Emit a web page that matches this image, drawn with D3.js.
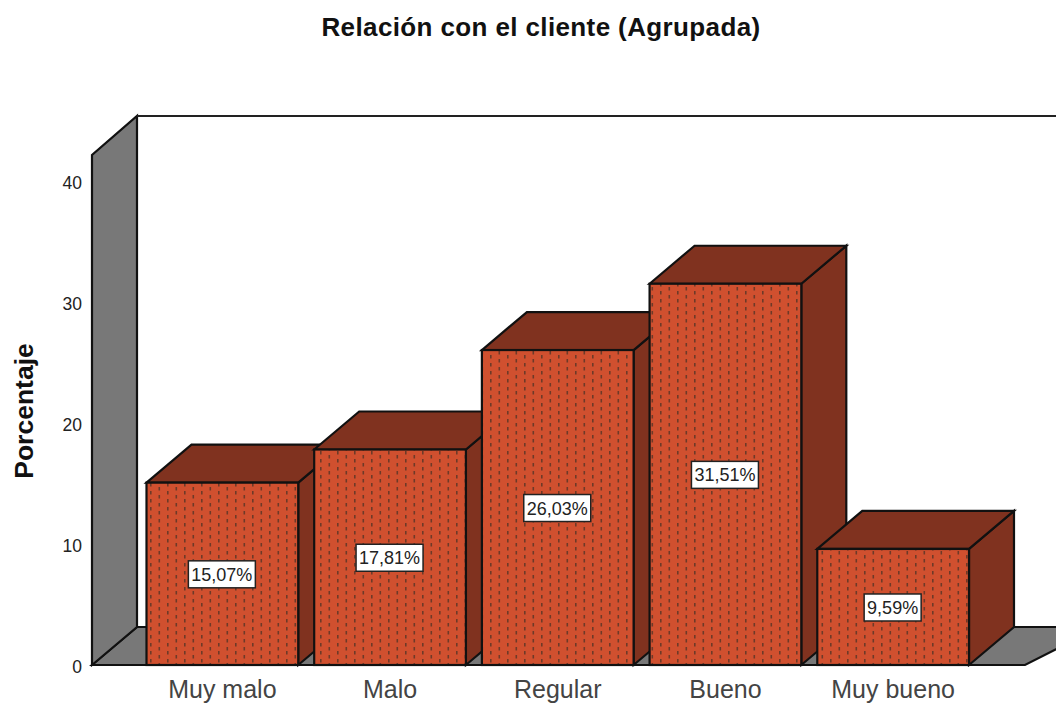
<!DOCTYPE html>
<html><head><meta charset="utf-8">
<script src="https://cdn.jsdelivr.net/npm/d3@7"></script>
<style>html,body{margin:0;padding:0;background:#fff;overflow:hidden}svg{display:block}text{font-family:"Liberation Sans",Arial,sans-serif}</style>
</head><body><svg id="c" width="1056" height="703"></svg>
<script>
const categories = ["Muy malo","Malo","Regular","Bueno","Muy bueno"];
const percentages = [15.07,17.81,26.03,31.51,9.59];
const valueLabels = ["15,07%","17,81%","26,03%","31,51%","9,59%"];
const yTicks = [0,10,20,30,40];
const chartTitle = "Relación con el cliente (Agrupada)";
const yTitle = "Porcentaje";

const DX = 45, DY = -38;
const ink = "#111";
const sw = 2.2;
const svg = d3.select("#c");
const y = d3.scaleLinear().domain([0,40]).range([665,181]);
const x = d3.scaleBand().domain(categories).range([146.5,969]).paddingInner(16/168).paddingOuter(0);
const fmt = p => d3.line()(p)+"Z";

const pat = svg.append("defs").append("pattern").attr("id","dots")
  .attr("patternUnits","userSpaceOnUse").attr("width",17).attr("height",8).attr("x",146).attr("y",483);
pat.append("rect").attr("width",17).attr("height",8).attr("fill","#D0502F");
[[4,0],[12.5,4]].forEach(([a,b])=>pat.append("rect").attr("x",a).attr("y",b).attr("width",1.6).attr("height",3.5).attr("fill","#6e3a28"));

// walls
const wallL=92, wallR=1025, yb=y(0), wallTop=155;
svg.append("path").attr("d",fmt([[wallL,yb],[wallL+DX,yb+DY],[1100,yb+DY],[wallR,yb]])).attr("fill","#787878").attr("stroke",ink).attr("stroke-width",sw);
svg.append("path").attr("d",fmt([[wallL,yb],[wallL,wallTop],[wallL+DX,wallTop+DY-1],[wallL+DX,yb+DY]])).attr("fill","#787878").attr("stroke",ink).attr("stroke-width",sw);
svg.append("path").attr("d",d3.line()([[wallL+DX,wallTop+DY-1],[1056,wallTop+DY-1]])).attr("stroke","#222").attr("stroke-width",sw).attr("fill","none");

// bars
const g = svg.selectAll("g.bar").data(categories).join("g").attr("class","bar");
g.each(function(c,i){
  const s=d3.select(this), l=x(c), r=l+x.bandwidth(), t=y(percentages[i]), b=y(0);
  s.append("path").attr("d",fmt([[r,t],[r+DX,t+DY],[r+DX,b+DY],[r,b]])).attr("fill","#80321F").attr("stroke",ink).attr("stroke-width",sw);
  s.append("path").attr("d",fmt([[l,t],[l+DX,t+DY],[r+DX,t+DY],[r,t]])).attr("fill","#80321F").attr("stroke",ink).attr("stroke-width",sw);
  s.append("rect").attr("x",l).attr("y",t).attr("width",x.bandwidth()).attr("height",b-t).attr("fill","url(#dots)").attr("stroke",ink).attr("stroke-width",sw);
});
svg.append("path").attr("d",d3.line()([[wallL,yb],[wallR,yb]])).attr("stroke",ink).attr("stroke-width",sw);

// value labels
categories.forEach((c,i)=>{
  const cx=x(c)+x.bandwidth()/2-0.5, cy=(y(percentages[i])+y(0))/2+0.5;
  const w=valueLabels[i].length>5?67:57;
  svg.append("rect").attr("x",cx-w/2).attr("y",cy-13.5).attr("width",w).attr("height",27).attr("fill","#fff").attr("stroke","#222").attr("stroke-width",1.5);
  svg.append("text").attr("x",cx).attr("y",cy+6.5).attr("text-anchor","middle").attr("font-size",18).attr("fill","#222").text(valueLabels[i]);
});

// axes
const ya=d3.axisLeft(y).tickValues(yTicks).tickSize(0).tickPadding(0);
const yg=svg.append("g").attr("transform","translate(82,2)").call(ya);
yg.select(".domain").remove();
yg.selectAll("text").attr("font-size",17.5).attr("fill","#222").style("font-family",'"Liberation Sans"');
const xa=d3.axisBottom(x).tickSize(0).tickPadding(0);
const xg=svg.append("g").attr("transform","translate(0,680)").call(xa);
xg.select(".domain").remove();
xg.selectAll("text").attr("font-size",25).attr("fill","#444").style("font-family",'"Liberation Sans"');

svg.append("text").attr("x",541).attr("y",36).attr("text-anchor","middle").attr("font-size",26).attr("font-weight","bold").attr("letter-spacing",0.38).attr("fill","#111").text(chartTitle);
svg.append("text").attr("transform","translate(33,411) rotate(-90)").attr("text-anchor","middle").attr("font-size",26.5).attr("font-weight","bold").attr("fill","#111").text(yTitle);
</script></body></html>
